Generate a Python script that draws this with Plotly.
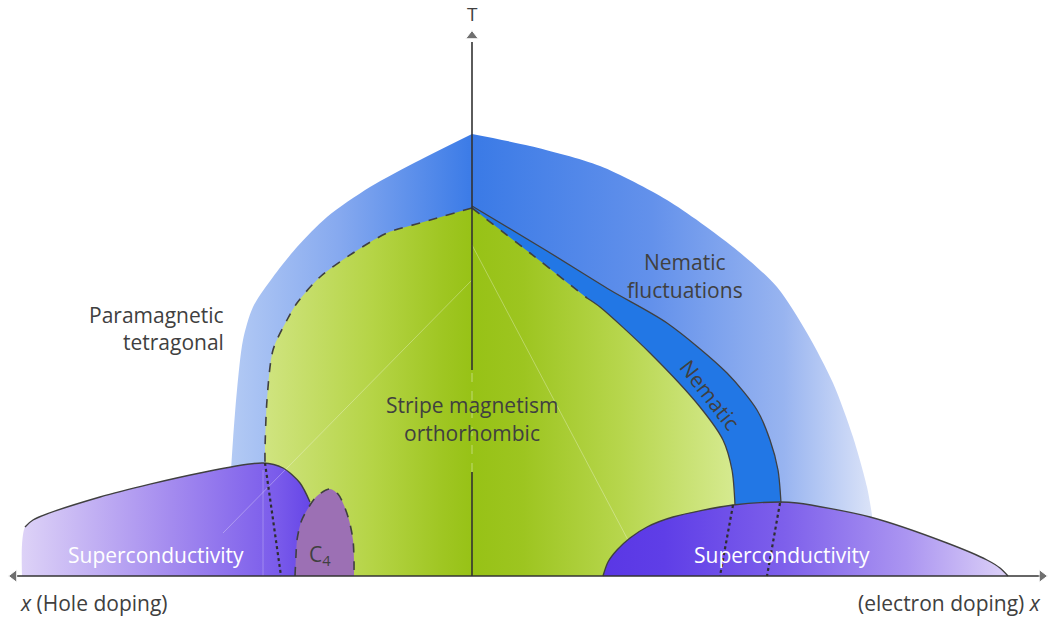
import plotly.graph_objects as go

# ---- phase boundaries (doping x, temperature T; arbitrary units) ----
# paramagnetic / nematic-fluctuation envelope, hole side and electron side
para_hole_x = [0, -0.52, -1.02, -1.45, -1.75, -1.99, -2.19, -2.29, -2.35, -2.39, -2.41]
para_hole_T = [4.42, 4.16, 3.89, 3.59, 3.29, 2.99, 2.69, 2.36, 1.86, 1.36, 1.06]
para_elec_x = [0, 0.58, 1.28, 1.95, 2.61, 3.05, 3.35, 3.61, 3.81, 3.95, 4.00]
para_elec_T = [4.42, 4.30, 4.10, 3.76, 3.29, 2.89, 2.43, 1.93, 1.39, 0.89, 0.61]

# nematic band: outer (structural) line and inner (magnetic) line
nem_outer_x = [0, 0.75, 1.38, 1.95, 2.55, 2.85, 2.98, 3.06, 3.09]
nem_outer_T = [3.70, 3.25, 2.86, 2.53, 2.03, 1.66, 1.36, 1.06, 0.73]
nem_inner_x = [0, 0.58, 1.15, 1.28, 1.78, 2.28, 2.51, 2.60, 2.63]
nem_inner_T = [3.68, 3.23, 2.78, 2.69, 2.23, 1.69, 1.36, 1.06, 0.71]

# stripe magnetism, hole-side boundary (first-order, dashed)
sm_hole_x = [0, -0.52, -0.85, -1.19, -1.52, -1.75, -1.85, -1.99, -2.05, -2.07, -2.07]
sm_hole_T = [3.68, 3.53, 3.43, 3.23, 2.99, 2.73, 2.56, 2.26, 1.76, 1.26, 1.13]

# superconducting domes
sc_hole_x = [-4.50, -4.50, -4.47, -4.39, -3.72, -2.72, -2.09, -1.89, -1.72, -1.62, -1.54, -1.52]
sc_hole_T = [0, 0.31, 0.49, 0.56, 0.79, 1.03, 1.13, 1.08, 0.93, 0.74, 0.46, 0]
sc_elec_x = [1.31, 1.36, 1.45, 1.58, 1.75, 2.01, 2.61, 3.08, 3.25, 3.98, 4.75, 5.15, 5.28, 5.36]
sc_elec_T = [0, 0.14, 0.26, 0.38, 0.49, 0.59, 0.71, 0.74, 0.73, 0.59, 0.33, 0.16, 0.08, 0]

# C4 magnetic pocket
c4_x = [-1.77, -1.76, -1.75, -1.71, -1.65, -1.55, -1.42, -1.34, -1.29, -1.23, -1.19, -1.18, -1.18]
c4_T = [0, 0.21, 0.36, 0.54, 0.66, 0.80, 0.87, 0.82, 0.73, 0.56, 0.36, 0.16, 0]

# lines continuing the transitions inside the superconducting domes
dot_hole = ([-2.07, -1.91], [1.13, 0])
dot_elec_1 = ([2.61, 2.48], [0.71, 0])
dot_elec_2 = ([3.08, 2.95], [0.73, 0])

INK = "#404040"
FONT = "Open Sans"
SMOOTH = 0.8

GREEN = [[0, "#d0e480"], [0.23, "#b5d446"], [0.38, "#9fc622"], [0.442, "#97c216"],
         [0.55, "#9dc520"], [0.76, "#b7d64d"], [1, "#d6ea90"]]
BLUE_HOLE = [[0, "#b3caf4"], [0.45, "#86a9ef"], [1, "#3b7be7"]]
BLUE_ELEC = [[0, "#3a7ae6"], [0.45, "#6391eb"], [0.78, "#98b4f0"], [1, "#dbe3f8"]]
SC_HOLE = [[0, "#ddd2f7"], [0.5, "#a48bef"], [0.85, "#7b5ceb"], [1, "#6040e6"]]
SC_ELEC = [[0, "#5a37e5"], [0.15, "#5f3ee7"], [0.45, "#7e60eb"], [0.75, "#ab95f1"], [1, "#dcd1f7"]]

fig = go.Figure()


def region(x, T, stops, x0, x1):
    """Area between a smooth boundary and the T = 0 axis, horizontal colour gradient."""
    fig.add_trace(go.Scatter(
        x=x, y=T, mode="lines", fill="tozeroy",
        line=dict(width=0, shape="spline", smoothing=SMOOTH),
        fillgradient=dict(type="horizontal", colorscale=stops, start=x0, stop=x1),
        hoverinfo="skip", showlegend=False))


def curve(x, T, dash="solid", width=1.4, color=INK, opacity=1.0, smooth=True):
    line = dict(color=color, width=width, dash=dash)
    if smooth:
        line.update(shape="spline", smoothing=SMOOTH)
    fig.add_trace(go.Scatter(
        x=x, y=T, mode="lines", line=line,
        opacity=opacity, hoverinfo="skip", showlegend=False))


# paramagnetic tetragonal / nematic fluctuations
region(para_hole_x, para_hole_T, BLUE_HOLE, -2.41, 0)
region(para_elec_x, para_elec_T, BLUE_ELEC, 0, 4.0)

# nematic band between the two transition lines
fig.add_trace(go.Scatter(x=nem_outer_x, y=nem_outer_T, mode="lines",
                         line=dict(width=0, shape="spline", smoothing=SMOOTH),
                         hoverinfo="skip", showlegend=False))
fig.add_trace(go.Scatter(x=nem_inner_x, y=nem_inner_T, mode="lines", fill="tonexty",
                         fillcolor="#2277e5",
                         line=dict(width=0, shape="spline", smoothing=SMOOTH),
                         hoverinfo="skip", showlegend=False))

# stripe magnetism orthorhombic (hole and electron halves share one gradient)
region(sm_hole_x + [-2.08], sm_hole_T + [1.0], GREEN, -2.08, 2.63)
region(nem_inner_x, nem_inner_T, GREEN, -2.08, 2.63)

# superconductivity (hole side)
region(sc_hole_x, sc_hole_T, SC_HOLE, -4.5, -1.52)

# C4 pocket
fig.add_trace(go.Scatter(x=c4_x, y=c4_T, mode="lines", fill="tozeroy", fillcolor="#9c70b4",
                         line=dict(width=0, shape="spline", smoothing=SMOOTH),
                         hoverinfo="skip", showlegend=False))

# superconductivity (electron side)
region(sc_elec_x, sc_elec_T, SC_ELEC, 1.31, 5.36)

# faint guide streaks
curve([0, -2.49], [2.96, 0.43], color="#ffffff", width=1, opacity=0.3, smooth=False)
curve([0, 1.56], [3.31, 0.36], color="#ffffff", width=1, opacity=0.3, smooth=False)
curve([-2.09, -2.09], [1.06, 0], color="#ffffff", width=1, opacity=0.25, smooth=False)
curve([0, 0], [1.04, 2.06], color="#ffffff", width=1, dash="dash", opacity=0.4, smooth=False)

# boundaries
curve(sm_hole_x, sm_hole_T, dash="dash", width=1.6)
curve(nem_inner_x[:3], nem_inner_T[:3], dash="dash", width=1.6)
curve(nem_inner_x[2:], nem_inner_T[2:], width=1.3)
curve(nem_outer_x, nem_outer_T, width=1.3)
curve(sc_hole_x[2:10], sc_hole_T[2:10], width=1.4)
curve(sc_elec_x, sc_elec_T, width=1.4)
curve(c4_x, c4_T, dash="dash", width=1.6)
for dx, dT in (dot_hole, dot_elec_1, dot_elec_2):
    curve(dx, dT, dash="dot", width=2.2, color="#2e2e2e", smooth=False)

# axes
curve([-4.55, 5.68], [0, 0], width=1.6, color="#333333", smooth=False)
curve([0, 0], [0, 1.04], width=1.6, color="#333333", smooth=False)
curve([0, 0], [2.06, 5.34], width=1.6, color="#333333", smooth=False)
fig.add_trace(go.Scatter(
    x=[-4.58, 5.70, 0], y=[0, 0, 5.40], mode="markers",
    marker=dict(symbol=["triangle-left", "triangle-right", "triangle-up"],
                size=[11, 11, 11], color="#333333"),
    hoverinfo="skip", showlegend=False))


# labels
def label(text, x, T, size=21, color=INK, xanchor="center", angle=0):
    fig.add_annotation(x=x, y=T, text=text, showarrow=False, xanchor=xanchor,
                       yanchor="middle", textangle=angle,
                       font=dict(family=FONT, size=size, color=color))


label("T", 0, 5.62, size=19)
label("Stripe magnetism", 0, 1.71)
label("orthorhombic", 0, 1.43)
label("Paramagnetic", -2.46, 2.61, xanchor="right")
label("tetragonal", -2.46, 2.34, xanchor="right")
label("Nematic", 2.13, 3.14)
label("fluctuations", 2.13, 2.86)
label("Nematic", 2.38, 1.81, angle=52)
label("Superconductivity", -3.16, 0.21, color="#ffffff")
label("Superconductivity", 3.10, 0.21, color="#ffffff")
label("C<sub>4</sub>", -1.52, 0.21)
label("<i>x</i> (Hole doping)", -4.54, -0.27, xanchor="left")
label("(electron doping) <i>x</i>", 5.71, -0.27, xanchor="right")

fig.update_layout(
    width=1051, height=619, margin=dict(l=0, r=0, t=0, b=0),
    paper_bgcolor="#ffffff", plot_bgcolor="#ffffff",
    xaxis=dict(range=[-4.72, 5.79], visible=False, fixedrange=True),
    yaxis=dict(range=[-0.43, 5.76], visible=False, fixedrange=True),
)

fig.write_html("out.html")
